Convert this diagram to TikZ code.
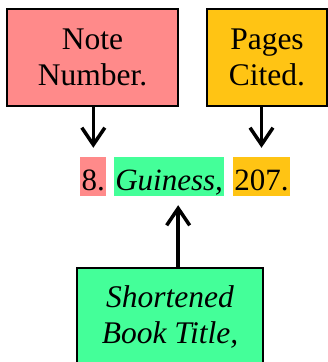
\documentclass[tikz,border=0pt]{standalone}
\usepackage{fontspec}
\setmainfont{Liberation Serif}
\usetikzlibrary{arrows.meta,positioning}
\definecolor{notepink}{RGB}{255,138,138}
\definecolor{pagesgold}{RGB}{255,196,20}
\definecolor{titlegreen}{RGB}{68,255,153}

\begin{document}
\begin{tikzpicture}[x=1pt,y=-1pt,
    box/.style={draw, line width=2.8pt, align=center, minimum height=97pt,
        inner sep=0pt, font=\fontsize{31.5}{36}\selectfont},
    hl/.style={inner xsep=1.5pt, inner ysep=0pt, text height=33pt, text depth=6pt,
        font=\fontsize{31}{36}\selectfont},
    arr/.style={line width=3.5pt, -{Straight Barb[length=17pt,width=23pt]}}]
    \useasboundingbox (0,0) rectangle (328,362);

    % Kästen oben
    \node[box, fill=notepink, minimum width=171pt] (note) at (92.5,57.5) {Note\\Number.};
    \node[box, fill=pagesgold, minimum width=120pt] (pages) at (267,57.5) {Pages\\Cited.};

    % Fußnote
    \node[hl, fill=notepink, anchor=base west] (n8) at (80,190) {8.};
    \node[hl, fill=titlegreen, right=7pt of n8] (guin) {\itshape Guiness,};
    \node[hl, fill=pagesgold, right=8pt of guin] (n207) {207.};

    % Kasten unten
    \node[box, fill=titlegreen, minimum width=186pt] (title) at (170,316.5)
        {\itshape Shortened\\\itshape Book Title,};

    % Pfeile
    \draw[arr, shorten >=9pt] (note.south -| n8.north) -- (n8.north);
    \draw[arr, shorten >=9pt] (pages.south -| n207.north) -- (n207.north);
    \draw[arr, shorten >=9pt] ([xshift=9pt]title.north -| guin.south) -- ([xshift=9pt]guin.south);
\end{tikzpicture}
\end{document}
